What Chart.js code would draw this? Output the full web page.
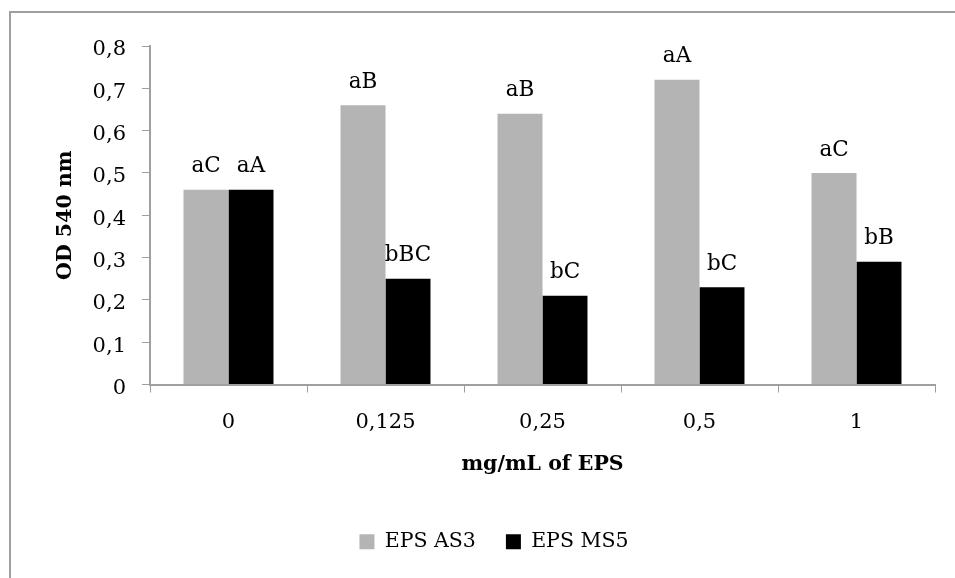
<!DOCTYPE html>
<html>
<head>
<meta charset="utf-8">
<script src="https://cdn.jsdelivr.net/npm/chart.js@4.4.1/dist/chart.umd.min.js"></script>
<style>
  body { margin: 0; background: #fff; }
  #wrap { position: relative; width: 955px; height: 578px; overflow: hidden; }
  #frame { position: absolute; left: 9px; top: 11px; width: 1000px; height: 600px;
           border-left: 2px solid #9f9f9f; border-top: 2px solid #9f9f9f; }
  canvas { position: absolute; left: 0; top: 0; }
</style>
</head>
<body>
<div id="wrap">
  <div id="frame"></div>
  <canvas id="odChart" width="955" height="578"></canvas>
</div>
<script>
// categories and series
const doses = ['0', '0,125', '0,25', '0,5', '1'];
const as3Values = [0.46, 0.66, 0.64, 0.72, 0.50];
const ms5Values = [0.46, 0.25, 0.21, 0.23, 0.29];
const as3Letters = ['aC', 'aB', 'aB', 'aA', 'aC'];
const ms5Letters = ['aA', 'bBC', 'bC', 'bC', 'bB'];
const yTicks = [0, 0.1, 0.2, 0.3, 0.4, 0.5, 0.6, 0.7, 0.8];

const serif = 'DejaVu Serif';
const axisGray = '#9f9f9f';

// letters above each bar
const letterPlugin = {
  id: 'letters',
  afterDatasetsDraw(chart) {
    const ctx = chart.ctx;
    const letters = [as3Letters, ms5Letters];
    ctx.save();
    ctx.font = '21.5px "' + serif + '"';
    ctx.fillStyle = '#000';
    ctx.textAlign = 'center';
    ctx.textBaseline = 'middle';
    chart.data.datasets.forEach((ds, i) => {
      chart.getDatasetMeta(i).data.forEach((bar, j) => {
        ctx.fillText(letters[i][j], bar.x, bar.y - 23);
      });
    });
    ctx.restore();
  }
};

const ctx = document.getElementById('odChart').getContext('2d');
const odChart = new Chart(ctx, {
  type: 'bar',
  data: {
    labels: doses,
    datasets: [
      { label: 'EPS AS3', data: as3Values, backgroundColor: '#b4b4b4', borderWidth: 0 },
      { label: 'EPS MS5', data: ms5Values, backgroundColor: '#000000', borderWidth: 0 }
    ]
  },
  options: {
    responsive: false,
    animation: false,
    layout: { padding: { left: 53, right: 20, top: 46, bottom: 16 } },
    datasets: { bar: { categoryPercentage: 0.573, barPercentage: 1 } },
    scales: {
      x: {
        grid: { drawOnChartArea: false, color: axisGray, tickLength: 8, offset: true },
        border: { color: axisGray, width: 2 },
        ticks: { color: '#000', font: { family: serif, size: 21 }, padding: 17 },
        title: { display: true, text: 'mg/mL of EPS', color: '#000',
                 font: { family: serif, size: 20.5, weight: 'bold' },
                 padding: { top: 0, bottom: 25 } },
        afterFit(scale) { scale.height = 117; }
      },
      y: {
        min: 0,
        max: 0.8,
        afterBuildTicks(scale) { scale.ticks = yTicks.map(v => ({ value: v })); },
        grid: { drawOnChartArea: false, color: axisGray, tickLength: 8 },
        border: { color: axisGray, width: 2 },
        ticks: {
          color: '#000',
          font: { family: serif, size: 21 },
          padding: 16,
          labelOffset: 4,
          callback: v => v === 0 ? '0' : String(Math.round(v * 10) / 10).replace('.', ',')
        },
        title: { display: true, text: 'OD 540 nm', color: '#000',
                 font: { family: serif, size: 20.5, weight: 'bold' },
                 padding: { top: 0, bottom: 0 } },
        afterFit(scale) { scale.width = 97; }
      }
    },
    plugins: {
      legend: {
        position: 'bottom',
        labels: {
          color: '#000',
          font: { family: serif, size: 20.5 },
          boxWidth: 15,
          boxHeight: 15,
          padding: 30
        }
      },
      tooltip: { enabled: false }
    }
  },
  plugins: [letterPlugin]
});
</script>
</body>
</html>
